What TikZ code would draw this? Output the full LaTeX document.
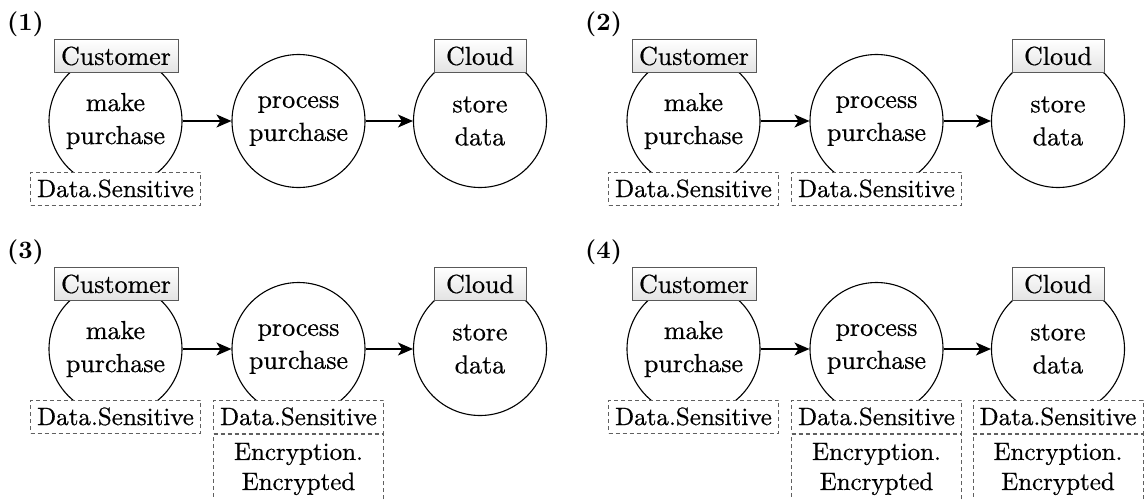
\documentclass[tikz,border=0pt]{standalone}
\usepackage{fontspec}
\newfontfamily\figfont{lmroman10-regular.otf}[FakeBold=0.6]
\newfontfamily\figbold{lmroman10-bold.otf}
\usetikzlibrary{arrows.meta}
\begin{document}
\begin{tikzpicture}[x=1pt,y=-1pt,
  every node/.style={font=\figfont\fontsize{26}{33}\selectfont},
  proc/.style={circle,draw,line width=1.1pt,minimum size=133pt,inner sep=0pt,align=center},
  actor/.style={draw=gray!70!black,line width=0.9pt,top color=white,bottom color=gray!22,minimum height=33pt,inner sep=0pt},
  tag/.style={draw=gray!75!black,dash pattern=on 4pt off 3pt,line width=1pt,fill=white,minimum width=170pt,minimum height=33pt,inner sep=0pt,font=\figfont\fontsize{25}{30}\selectfont},
  enc/.style={tag,minimum height=70pt,align=center,anchor=north},
  flow/.style={-{Stealth[length=15pt,width=13pt,inset=4pt]},line width=1.1pt},
  lbl/.style={font=\figbold\fontsize{25}{30}\selectfont,anchor=west,inner sep=0pt}
]
\useasboundingbox (0,0) rectangle (1144,499);

% ---- panel 1
\begin{scope}
\node[lbl] (L1) at (7,24) {(1)};
\node[proc] (m1) at (115.5,121) {make\\purchase};
\node[proc] (p1) at (298.5,121) {process\\purchase};
\node[proc] (s1) at (480,121) {store\\data};
\draw[flow] (m1) -- (p1);
\draw[flow] (p1) -- (s1);
\node[actor,minimum width=124pt] (c1) at (116,56) {Customer};
\node[actor,minimum width=92pt] (k1) at (480,56) {Cloud};
\node[tag] (d1a) at (115.5,188.5) {Data.Sensitive};
\end{scope}

% ---- panel 2
\begin{scope}[shift={(578,0)}]
\node[lbl] (L2) at (7,24) {(2)};
\node[proc] (m2) at (115.5,121) {make\\purchase};
\node[proc] (p2) at (298.5,121) {process\\purchase};
\node[proc] (s2) at (480,121) {store\\data};
\draw[flow] (m2) -- (p2);
\draw[flow] (p2) -- (s2);
\node[actor,minimum width=124pt] (c2) at (116,56) {Customer};
\node[actor,minimum width=92pt] (k2) at (480,56) {Cloud};
\node[tag] (d2a) at (115.5,188.5) {Data.Sensitive};
\node[tag] (d2b) at (298.5,188.5) {Data.Sensitive};
\end{scope}

% ---- panel 3
\begin{scope}[shift={(0,228)}]
\node[lbl] (L3) at (7,24) {(3)};
\node[proc] (m3) at (115.5,121) {make\\purchase};
\node[proc] (p3) at (298.5,121) {process\\purchase};
\node[proc] (s3) at (480,121) {store\\data};
\draw[flow] (m3) -- (p3);
\draw[flow] (p3) -- (s3);
\node[actor,minimum width=124pt] (c3) at (116,56) {Customer};
\node[actor,minimum width=92pt] (k3) at (480,56) {Cloud};
\node[tag] (d3a) at (115.5,188.5) {Data.Sensitive};
\node[tag] (d3b) at (298.5,188.5) {Data.Sensitive};
\node[enc] (e3b) at (d3b.south) {Encryption.\\Encrypted};
\end{scope}

% ---- panel 4
\begin{scope}[shift={(578,228)}]
\node[lbl] (L4) at (7,24) {(4)};
\node[proc] (m4) at (115.5,121) {make\\purchase};
\node[proc] (p4) at (298.5,121) {process\\purchase};
\node[proc] (s4) at (480,121) {store\\data};
\draw[flow] (m4) -- (p4);
\draw[flow] (p4) -- (s4);
\node[actor,minimum width=124pt] (c4) at (116,56) {Customer};
\node[actor,minimum width=92pt] (k4) at (480,56) {Cloud};
\node[tag] (d4a) at (115.5,188.5) {Data.Sensitive};
\node[tag] (d4b) at (298.5,188.5) {Data.Sensitive};
\node[enc] (e4b) at (d4b.south) {Encryption.\\Encrypted};
\node[tag] (d4c) at (480,188.5) {Data.Sensitive};
\node[enc] (e4c) at (d4c.south) {Encryption.\\Encrypted};
\end{scope}
\end{tikzpicture}
\end{document}
